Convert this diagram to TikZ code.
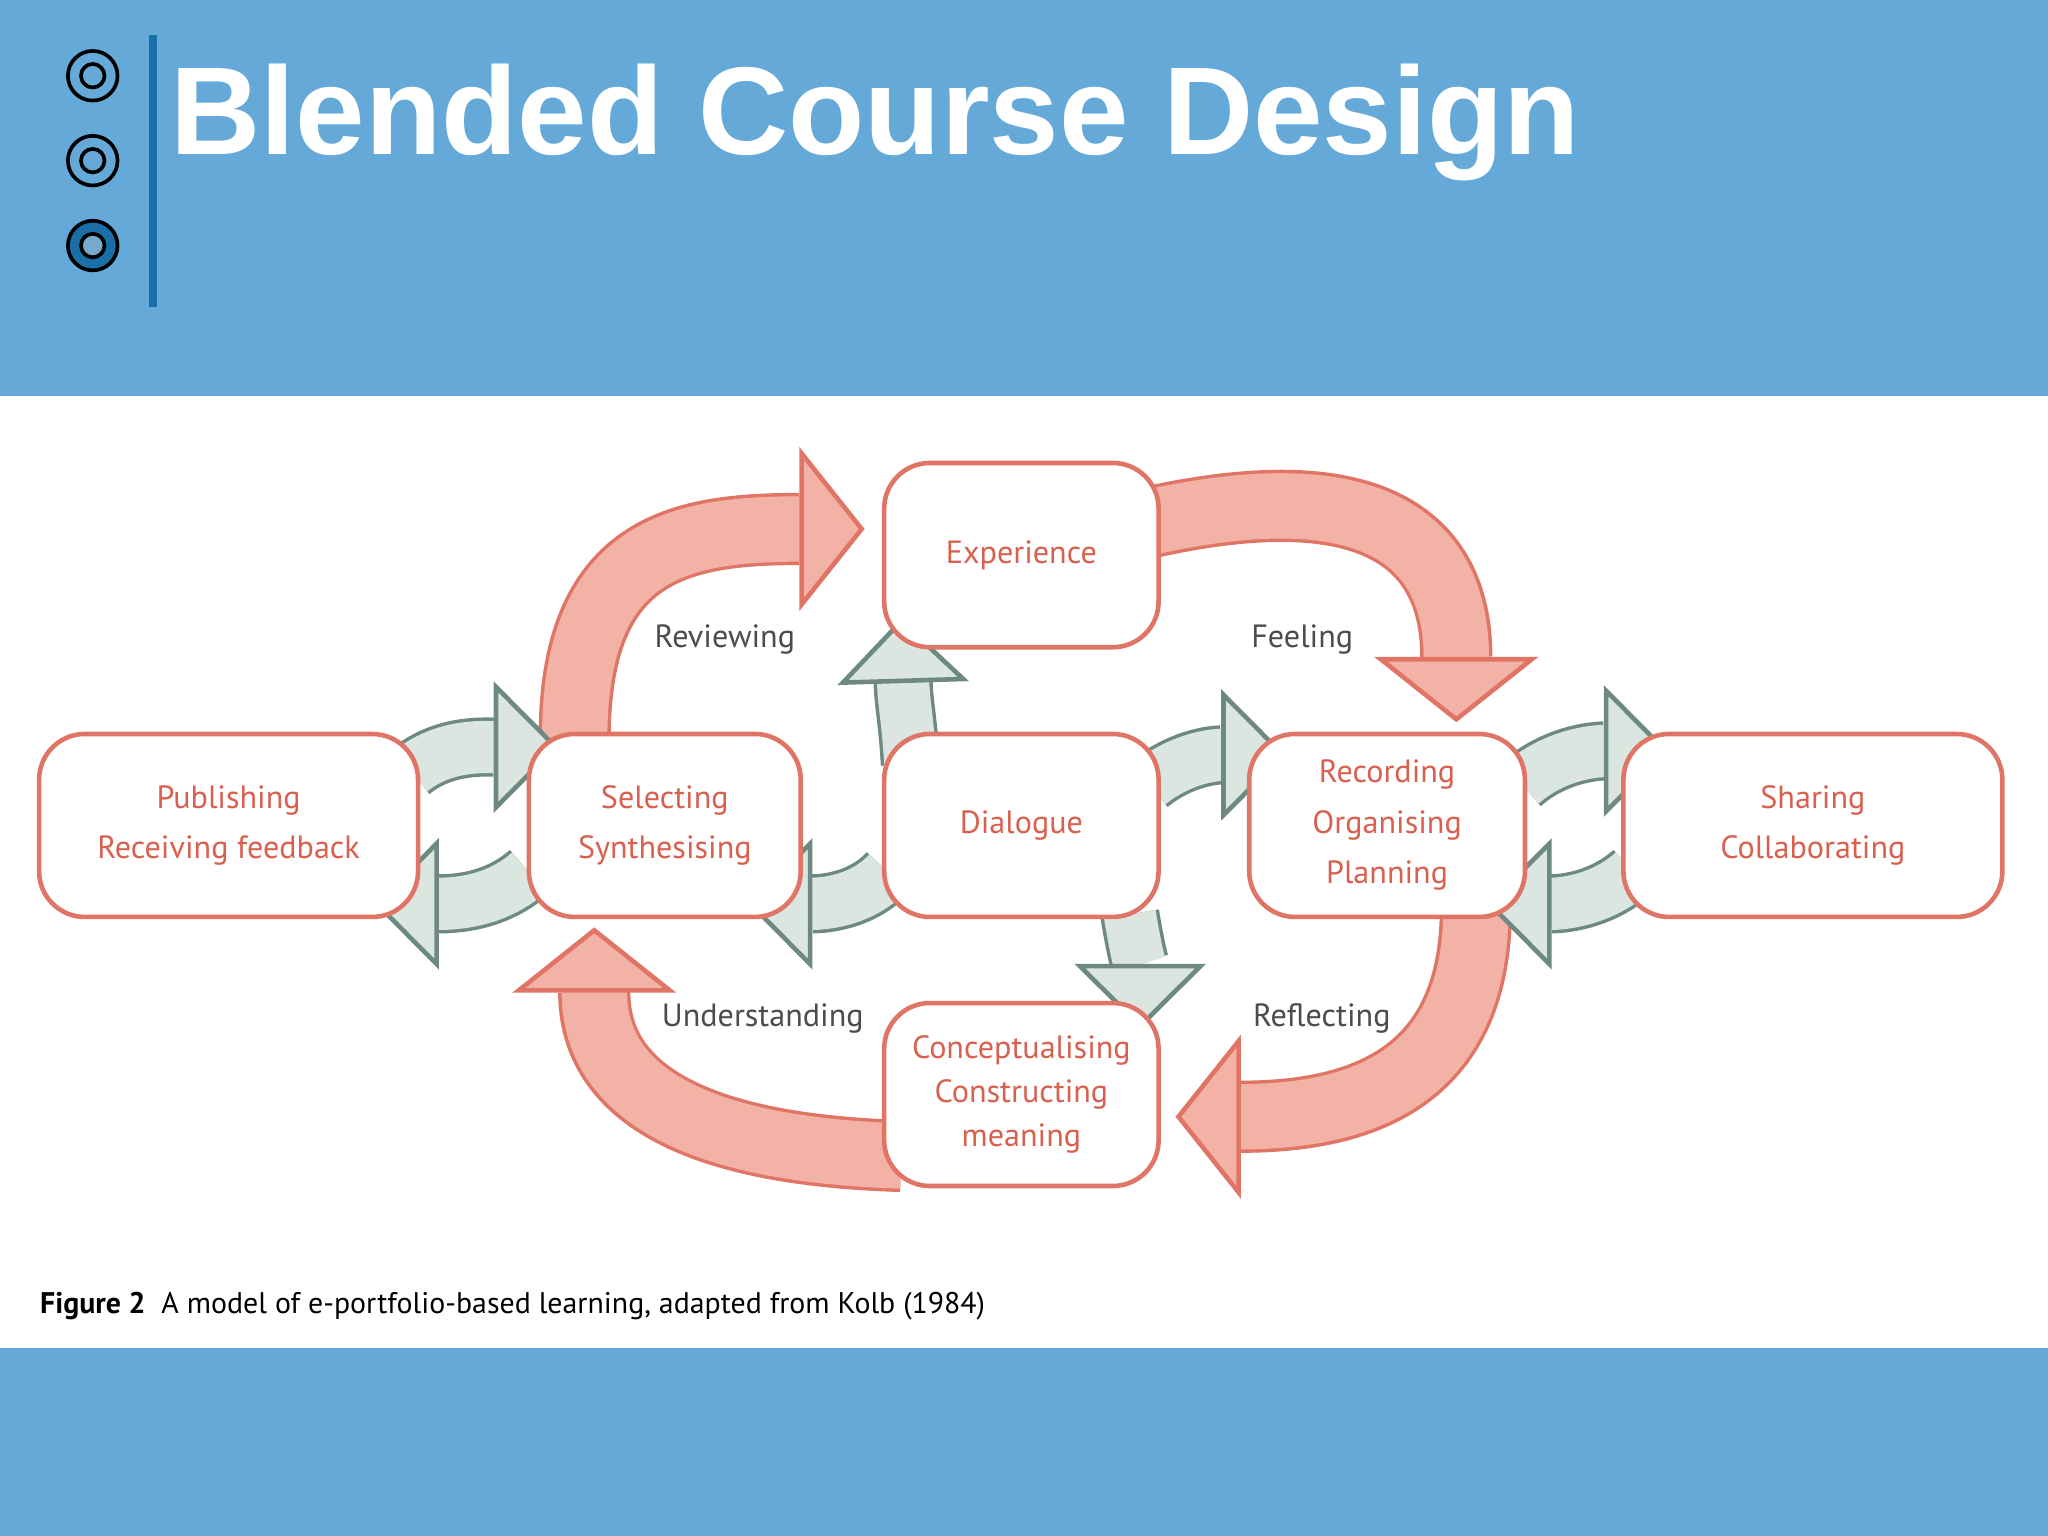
\documentclass[tikz,border=0pt]{standalone}
\usepackage{fontspec}
\setmainfont{PT Sans}
\newfontfamily\titlefont{Liberation Sans}
\usetikzlibrary{arrows.meta}
\definecolor{band}{HTML}{64A9D8}
\definecolor{dblue}{HTML}{1A6FA8}
\definecolor{rb}{HTML}{E07565}
\definecolor{rf}{HTML}{F3B2A6}
\definecolor{gb}{HTML}{6E8A80}
\definecolor{gf}{HTML}{DCE6E1}
\definecolor{txt}{HTML}{D8604F}
\newcommand\farrow[5]{%
 \draw[line width=#3+1.5pt,draw=#1,shorten >=#4] #5;
 \draw[line width=#3,draw=#2,-{Triangle[width=#3*2.5,length=#4,line width=1pt,color=#1,fill=#2]}] #5;}
\begin{document}
\begin{tikzpicture}[x=0.01cm,y=-0.01cm,
 box/.style={draw=rb,line width=1pt,fill=white,rounded corners=0.35cm,inner sep=0pt,
   font=\fontsize{7}{11}\selectfont,text=txt,align=center},
 lab/.style={font=\fontsize{7}{9}\selectfont,text=black!70}]
\useasboundingbox (0,0) rectangle (1568,1176);
\fill[white] (0,0) rectangle (1568,1176);
\fill[band] (0,0) rectangle (1568,303);
\fill[band] (0,1032) rectangle (1568,1176);
\draw[dblue,line width=0.6mm] (117,27) -- (117,235);
\foreach \yy in {58,123}{\draw[black,line width=0.8pt] (71,\yy) circle (19) (71,\yy) circle (9);}
\draw[black,line width=0.8pt,fill=dblue] (71,188) circle (19);
\draw[black,line width=0.8pt,fill=dblue!60] (71,188) circle (9);
\node[anchor=base west,inner sep=0pt,text=white,font=\titlefont\bfseries\fontsize{27.2}{30}\selectfont] (title) at (130,118) {Blended Course Design};
% red cycle arrows
\coordinate (r1a) at (440,565); \coordinate (r1b) at (662,405);
\farrow{rb}{rf}{0.5cm}{0.5cm}{(r1a) .. controls (440,420) and (520,405) .. (r1b)}
\coordinate (r2a) at (880,400); \coordinate (r2b) at (1115,553);
\farrow{rb}{rf}{0.5cm}{0.5cm}{(r2a) .. controls (1060,360) and (1115,420) .. (r2b)}
\coordinate (r3a) at (1130,695); \coordinate (r3b) at (900,855);
\farrow{rb}{rf}{0.5cm}{0.5cm}{(r3a) .. controls (1130,820) and (1050,855) .. (r3b)}
\coordinate (r4a) at (690,885); \coordinate (r4b) at (455,710);
\farrow{rb}{rf}{0.5cm}{0.5cm}{(r4a) .. controls (520,880) and (455,830) .. (r4b)}
% gray arrows
\farrow{gb}{gf}{0.4cm}{0.5cm}{(315,590) .. controls (340,570) and (370,572) .. (428,572)}
\farrow{gb}{gf}{0.4cm}{0.5cm}{(405,668) .. controls (380,690) and (350,692) .. (286,692)}
\farrow{gb}{gf}{0.4cm}{0.5cm}{(697,585) .. controls (695,550) and (692,540) .. (690,473)}
\farrow{gb}{gf}{0.4cm}{0.5cm}{(680,668) .. controls (660,690) and (630,692) .. (572,692)}
\farrow{gb}{gf}{0.4cm}{0.5cm}{(880,600) .. controls (905,580) and (930,578) .. (985,578)}
\farrow{gb}{gf}{0.4cm}{0.5cm}{(865,700) .. controls (870,730) and (873,740) .. (873,788)}
\farrow{gb}{gf}{0.4cm}{0.5cm}{(1165,600) .. controls (1190,578) and (1220,575) .. (1278,575)}
\farrow{gb}{gf}{0.4cm}{0.5cm}{(1250,668) .. controls (1225,690) and (1195,692) .. (1138,692)}
% boxes
\node[box,minimum width=2.9cm,minimum height=1.4cm] (pub) at (175,632) {Publishing\\Receiving feedback};
\node[box,minimum width=2.08cm,minimum height=1.4cm] (sel) at (509,632) {Selecting\\Synthesising};
\node[box,minimum width=2.1cm,minimum height=1.4cm] (dia) at (782,632) {Dialogue};
\node[box,minimum width=2.11cm,minimum height=1.4cm] (rec) at (1062,632) {Recording\\Organising\\Planning};
\node[box,minimum width=2.9cm,minimum height=1.4cm] (sha) at (1388,632) {Sharing\\Collaborating};
\node[box,minimum width=2.1cm,minimum height=1.41cm] (exp) at (782,425) {Experience};
\node[box,minimum width=2.1cm,minimum height=1.4cm,font=\fontsize{7}{9.5}\selectfont] (con) at (782,838) {Conceptualising\\Constructing\\meaning};
\node[lab] (l1) at (555,490) {Reviewing};
\node[lab] (l2) at (997,490) {Feeling};
\node[lab] (l3) at (584,780) {Understanding};
\node[lab] (l4) at (1012,780) {Reflecting};
\node[anchor=west,inner sep=0pt,font=\fontsize{6.5}{7}\selectfont] (cap) at (30,1000) {\textbf{Figure 2}\ \ A model of e-portfolio-based learning, adapted from Kolb (1984)};
\end{tikzpicture}
\end{document}
